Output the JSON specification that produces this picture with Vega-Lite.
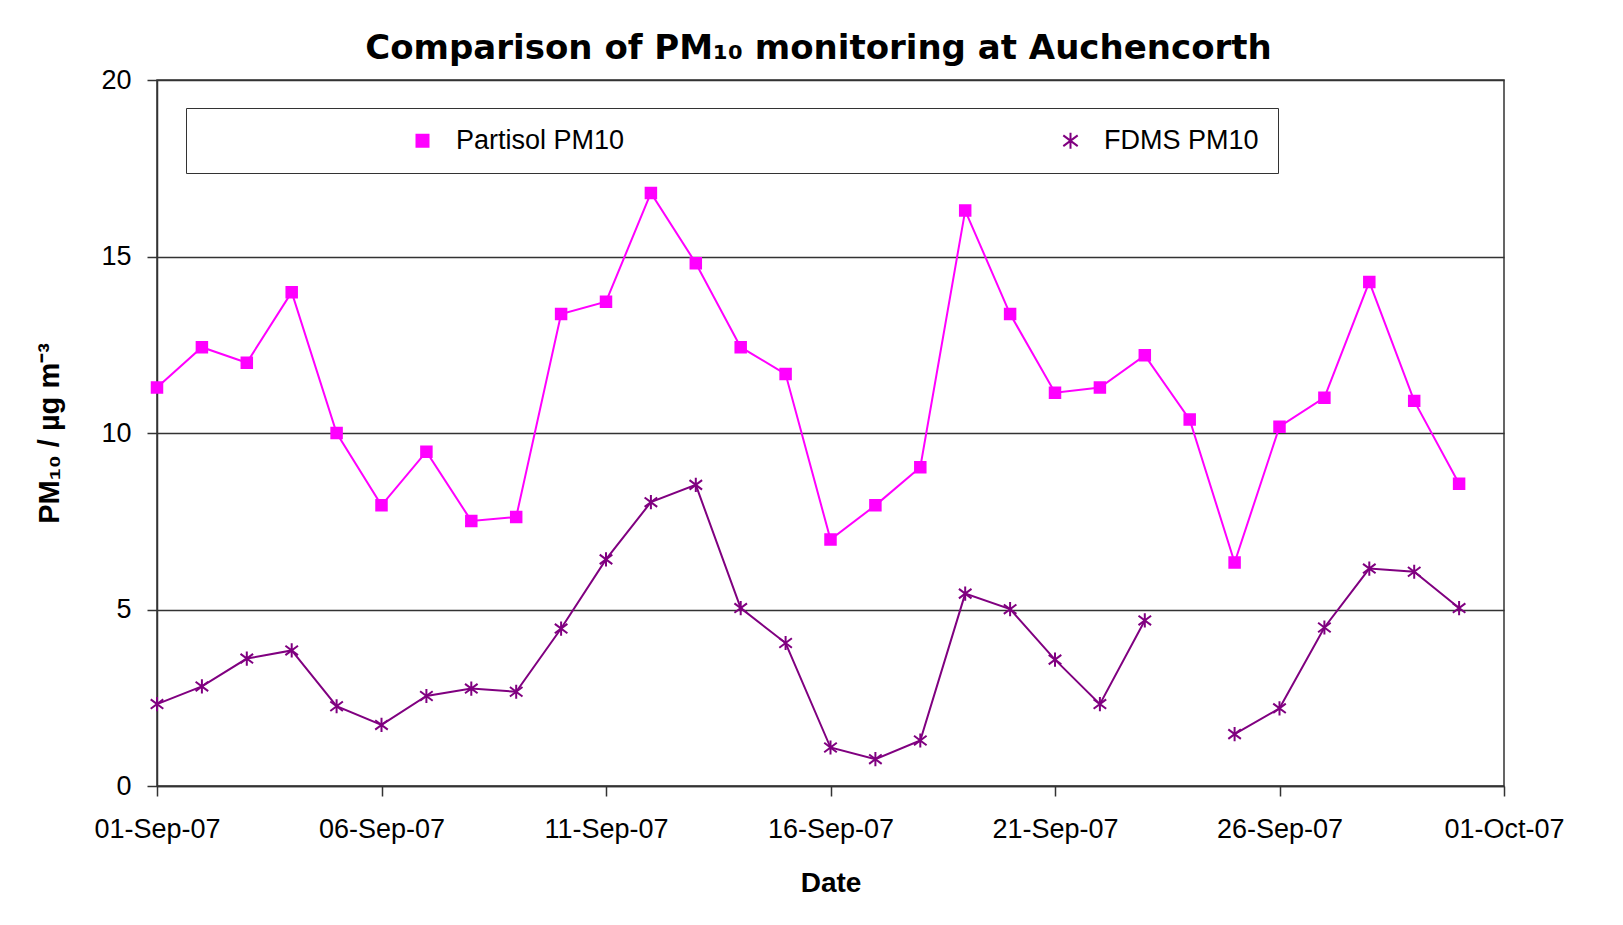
{
  "$schema": "https://vega.github.io/schema/vega-lite/v6.json",
  "width": 1347,
  "height": 706,
  "autosize": {"type": "none"},
  "padding": {"left": 157, "top": 80, "right": 119, "bottom": 139},
  "background": "white",
  "title": {
    "text": "Comparison of PM₁₀ monitoring at Auchencorth",
    "font": "DejaVu Sans",
    "fontSize": 34,
    "fontWeight": "bold",
    "color": "black",
    "anchor": "middle",
    "frame": "group",
    "dx": -12,
    "dy": 41,
    "offset": 14,
    "baseline": "alphabetic"
  },
  "config": {
    "view": {"stroke": "#333333", "strokeWidth": 1.5},
    "font": "Liberation Sans"
  },
  "data": {
    "values": [
      {"date": "2007-09-01", "series": "Partisol PM10", "value": 11.29},
      {"date": "2007-09-02", "series": "Partisol PM10", "value": 12.43},
      {"date": "2007-09-03", "series": "Partisol PM10", "value": 11.99},
      {"date": "2007-09-04", "series": "Partisol PM10", "value": 13.99},
      {"date": "2007-09-05", "series": "Partisol PM10", "value": 10.0},
      {"date": "2007-09-06", "series": "Partisol PM10", "value": 7.95},
      {"date": "2007-09-07", "series": "Partisol PM10", "value": 9.47},
      {"date": "2007-09-08", "series": "Partisol PM10", "value": 7.51},
      {"date": "2007-09-09", "series": "Partisol PM10", "value": 7.62},
      {"date": "2007-09-10", "series": "Partisol PM10", "value": 13.37},
      {"date": "2007-09-11", "series": "Partisol PM10", "value": 13.72},
      {"date": "2007-09-12", "series": "Partisol PM10", "value": 16.8},
      {"date": "2007-09-13", "series": "Partisol PM10", "value": 14.81},
      {"date": "2007-09-14", "series": "Partisol PM10", "value": 12.43},
      {"date": "2007-09-15", "series": "Partisol PM10", "value": 11.67},
      {"date": "2007-09-16", "series": "Partisol PM10", "value": 6.98},
      {"date": "2007-09-17", "series": "Partisol PM10", "value": 7.95},
      {"date": "2007-09-18", "series": "Partisol PM10", "value": 9.03},
      {"date": "2007-09-19", "series": "Partisol PM10", "value": 16.3},
      {"date": "2007-09-20", "series": "Partisol PM10", "value": 13.37},
      {"date": "2007-09-21", "series": "Partisol PM10", "value": 11.14},
      {"date": "2007-09-22", "series": "Partisol PM10", "value": 11.29},
      {"date": "2007-09-23", "series": "Partisol PM10", "value": 12.2},
      {"date": "2007-09-24", "series": "Partisol PM10", "value": 10.38},
      {"date": "2007-09-25", "series": "Partisol PM10", "value": 6.33},
      {"date": "2007-09-26", "series": "Partisol PM10", "value": 10.18},
      {"date": "2007-09-27", "series": "Partisol PM10", "value": 11.0},
      {"date": "2007-09-28", "series": "Partisol PM10", "value": 14.28},
      {"date": "2007-09-29", "series": "Partisol PM10", "value": 10.91},
      {"date": "2007-09-30", "series": "Partisol PM10", "value": 8.56},
      {"date": "2007-09-01", "series": "FDMS PM10", "value": 2.32},
      {"date": "2007-09-02", "series": "FDMS PM10", "value": 2.82},
      {"date": "2007-09-03", "series": "FDMS PM10", "value": 3.61},
      {"date": "2007-09-04", "series": "FDMS PM10", "value": 3.84},
      {"date": "2007-09-05", "series": "FDMS PM10", "value": 2.26},
      {"date": "2007-09-06", "series": "FDMS PM10", "value": 1.73},
      {"date": "2007-09-07", "series": "FDMS PM10", "value": 2.55},
      {"date": "2007-09-08", "series": "FDMS PM10", "value": 2.76},
      {"date": "2007-09-09", "series": "FDMS PM10", "value": 2.67},
      {"date": "2007-09-10", "series": "FDMS PM10", "value": 4.46},
      {"date": "2007-09-11", "series": "FDMS PM10", "value": 6.42},
      {"date": "2007-09-12", "series": "FDMS PM10", "value": 8.04},
      {"date": "2007-09-13", "series": "FDMS PM10", "value": 8.53},
      {"date": "2007-09-14", "series": "FDMS PM10", "value": 5.04},
      {"date": "2007-09-15", "series": "FDMS PM10", "value": 4.05},
      {"date": "2007-09-16", "series": "FDMS PM10", "value": 1.09},
      {"date": "2007-09-17", "series": "FDMS PM10", "value": 0.76},
      {"date": "2007-09-18", "series": "FDMS PM10", "value": 1.29},
      {"date": "2007-09-19", "series": "FDMS PM10", "value": 5.45},
      {"date": "2007-09-20", "series": "FDMS PM10", "value": 5.01},
      {"date": "2007-09-21", "series": "FDMS PM10", "value": 3.58},
      {"date": "2007-09-22", "series": "FDMS PM10", "value": 2.32},
      {"date": "2007-09-23", "series": "FDMS PM10", "value": 4.69},
      {"date": "2007-09-24", "series": "FDMS PM10", "value": null},
      {"date": "2007-09-25", "series": "FDMS PM10", "value": 1.47},
      {"date": "2007-09-26", "series": "FDMS PM10", "value": 2.2},
      {"date": "2007-09-27", "series": "FDMS PM10", "value": 4.49},
      {"date": "2007-09-28", "series": "FDMS PM10", "value": 6.16},
      {"date": "2007-09-29", "series": "FDMS PM10", "value": 6.07},
      {"date": "2007-09-30", "series": "FDMS PM10", "value": 5.04}
    ]
  },
  "encoding": {
    "x": {
      "field": "date",
      "type": "temporal",
      "scale": {
        "type": "utc",
        "domain": [
          {"year": 2007, "month": 9, "date": 1, "utc": true},
          {"year": 2007, "month": 10, "date": 1, "utc": true}
        ]
      },
      "axis": {
        "values": [
          {"year": 2007, "month": 9, "date": 1, "utc": true},
          {"year": 2007, "month": 9, "date": 6, "utc": true},
          {"year": 2007, "month": 9, "date": 11, "utc": true},
          {"year": 2007, "month": 9, "date": 16, "utc": true},
          {"year": 2007, "month": 9, "date": 21, "utc": true},
          {"year": 2007, "month": 9, "date": 26, "utc": true},
          {"year": 2007, "month": 10, "date": 1, "utc": true}
        ],
        "format": "%d-%b-%y",
        "title": "Date",
        "grid": false,
        "domainColor": "#333333",
        "domainWidth": 1.5,
        "tickColor": "#333333",
        "tickWidth": 1.5,
        "tickSize": 10,
        "labelFontSize": 27,
        "labelColor": "black",
        "labelPadding": 20,
        "labelFlush": false,
        "labelOverlap": false,
        "titleFontSize": 28,
        "titleFontWeight": "bold",
        "titleColor": "black",
        "titlePadding": 27
      }
    },
    "y": {
      "field": "value",
      "type": "quantitative",
      "scale": {"domain": [0, 20], "nice": false},
      "axis": {
        "values": [0, 5, 10, 15, 20],
        "title": "PM₁₀ / µg m⁻³",
        "grid": true,
        "gridColor": "#333333",
        "gridWidth": 1.5,
        "domainColor": "#333333",
        "domainWidth": 1.5,
        "tickColor": "#333333",
        "tickWidth": 1.5,
        "tickSize": 10,
        "labelFontSize": 27,
        "labelColor": "black",
        "labelPadding": 16,
        "titleFontSize": 29,
        "titleFontWeight": "bold",
        "titleColor": "black",
        "titlePadding": 36
      }
    }
  },
  "layer": [
    {
      "mark": {"type": "line", "strokeWidth": 2, "invalid": "break-paths-show-domains"},
      "encoding": {
        "color": {
          "field": "series",
          "type": "nominal",
          "scale": {"domain": ["Partisol PM10", "FDMS PM10"], "range": ["#FF00FF", "#800080"]},
          "legend": {
            "title": null,
            "orient": "none",
            "legendX": 29,
            "legendY": 28,
            "direction": "horizontal",
            "columns": 2,
            "padding": 19,
            "strokeColor": "#333333",
            "fillColor": "white",
            "symbolSize": 144,
            "symbolStrokeWidth": 2,
            "symbolOffset": 204,
            "labelOffset": 20,
            "columnPadding": 228,
            "labelFontSize": 27,
            "labelColor": "black",
            "labelLimit": 1000
          }
        }
      }
    },
    {
      "mark": {"type": "point", "filled": true, "strokeWidth": 2, "opacity": 1, "size": 110},
      "encoding": {
        "color": {
          "field": "series",
          "type": "nominal",
          "scale": {"domain": ["Partisol PM10", "FDMS PM10"], "range": ["#FF00FF", "#800080"]},
          "legend": null
        },
        "stroke": {
          "field": "series",
          "type": "nominal",
          "scale": {"domain": ["Partisol PM10", "FDMS PM10"], "range": ["#FF00FF", "#800080"]},
          "legend": null
        },
        "shape": {
          "field": "series",
          "type": "nominal",
          "scale": {"domain": ["Partisol PM10", "FDMS PM10"], "range": ["square", "M0,-1.35L0,1.35M-1.2,-0.9L1.2,0.9M-1.2,0.9L1.2,-0.9"]},
          "legend": null
        }
      }
    }
  ]
}
